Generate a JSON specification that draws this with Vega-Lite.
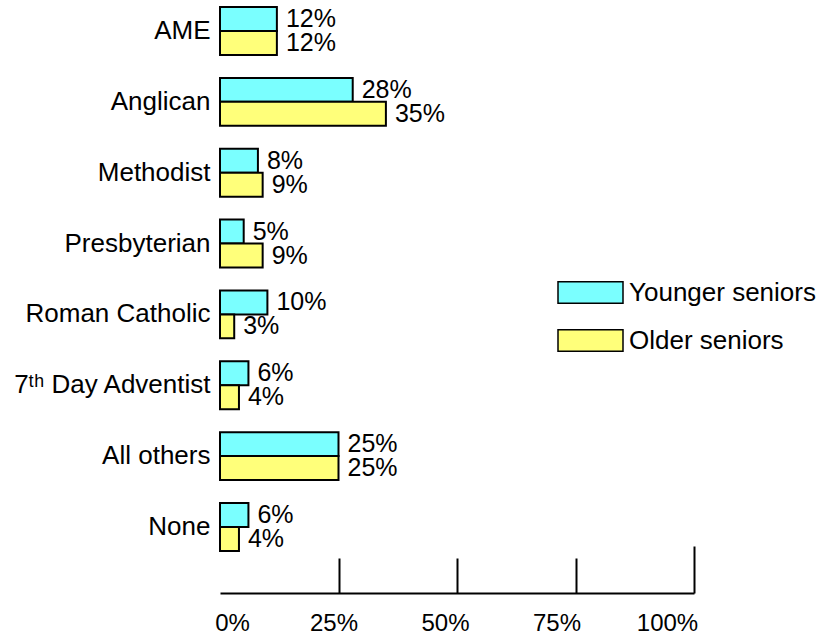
{
  "$schema": "https://vega.github.io/schema/vega-lite/v6.json",
  "width": 474,
  "height": 593,
  "autosize": {"type": "none"},
  "padding": {"left": 220, "top": 0, "right": 128, "bottom": 45},
  "background": "white",
  "config": {"view": {"stroke": null}, "font": "Liberation Sans"},
  "data": {
    "values": [
      {"religion": "AME", "group": "Younger seniors", "pct": 0.12},
      {"religion": "AME", "group": "Older seniors", "pct": 0.12},
      {"religion": "Anglican", "group": "Younger seniors", "pct": 0.28},
      {"religion": "Anglican", "group": "Older seniors", "pct": 0.35},
      {"religion": "Methodist", "group": "Younger seniors", "pct": 0.08},
      {"religion": "Methodist", "group": "Older seniors", "pct": 0.09},
      {"religion": "Presbyterian", "group": "Younger seniors", "pct": 0.05},
      {"religion": "Presbyterian", "group": "Older seniors", "pct": 0.09},
      {"religion": "Roman Catholic", "group": "Younger seniors", "pct": 0.10},
      {"religion": "Roman Catholic", "group": "Older seniors", "pct": 0.03},
      {"religion": "7ᵗʰ Day Adventist", "group": "Younger seniors", "pct": 0.06},
      {"religion": "7ᵗʰ Day Adventist", "group": "Older seniors", "pct": 0.04},
      {"religion": "All others", "group": "Younger seniors", "pct": 0.25},
      {"religion": "All others", "group": "Older seniors", "pct": 0.25},
      {"religion": "None", "group": "Younger seniors", "pct": 0.06},
      {"religion": "None", "group": "Older seniors", "pct": 0.04}
    ]
  },
  "encoding": {
    "y": {
      "field": "religion",
      "type": "nominal",
      "sort": ["AME", "Anglican", "Methodist", "Presbyterian", "Roman Catholic", "7ᵗʰ Day Adventist", "All others", "None"],
      "scale": {"paddingInner": 0.324, "paddingOuter": 0.3465, "align": 0.143},
      "axis": {"title": null, "domain": false, "ticks": false, "labelFontSize": 26, "labelColor": "black", "labelPadding": 10, "labelLimit": 300}
    },
    "yOffset": {
      "field": "group",
      "type": "nominal",
      "sort": ["Younger seniors", "Older seniors"],
      "scale": {"paddingInner": 0, "paddingOuter": 0}
    }
  },
  "resolve": {"axis": {"x": "independent"}},
  "layer": [
    {
      "mark": {"type": "bar", "stroke": "black", "strokeWidth": 2},
      "encoding": {
        "x": {
          "field": "pct",
          "type": "quantitative",
          "scale": {"domain": [0, 1], "nice": false},
          "axis": {
            "orient": "bottom",
            "title": null,
            "values": [0.25, 0.5, 0.75, 1],
            "labels": false,
            "grid": false,
            "domainColor": "black",
            "domainWidth": 2,
            "tickColor": "black",
            "tickWidth": 2,
            "tickSize": {"condition": {"test": "datum.value == 1", "value": -47}, "value": -35}
          }
        },
        "color": {
          "field": "group",
          "type": "nominal",
          "sort": ["Younger seniors", "Older seniors"],
          "scale": {"domain": ["Younger seniors", "Older seniors"], "range": ["#7AFFFF", "#FFFF7A"]},
          "legend": {
            "title": null,
            "orient": "none",
            "legendX": 337,
            "legendY": 259,
            "padding": 0,
            "symbolType": "M-1,-0.33H1V0.33H-1Z",
            "symbolSize": 4225,
            "symbolStrokeColor": "black",
            "symbolStrokeWidth": 1.5,
            "symbolOpacity": 1,
            "labelFontSize": 26,
            "labelLimit": 300,
            "labelColor": "black",
            "labelOffset": 5,
            "rowPadding": -18
          }
        }
      }
    },
    {
      "mark": {"type": "text", "align": "left", "baseline": "middle", "dx": 9, "fontSize": 25, "color": "black"},
      "encoding": {
        "x": {
          "field": "pct",
          "type": "quantitative",
          "scale": {"domain": [0, 1], "nice": false},
          "axis": {
            "orient": "bottom",
            "title": null,
            "values": [0, 0.25, 0.5, 0.75, 1],
            "format": ".0%",
            "grid": false,
            "domain": false,
            "ticks": false,
            "labelPadding": 18,
            "labelFontSize": 24,
            "labelColor": "black",
            "labelFlush": false,
            "labelOffset": {
              "condition": [
                {"test": "datum.value == 0", "value": 12},
                {"test": "datum.value == 0.25", "value": -5},
                {"test": "datum.value == 0.5", "value": -12},
                {"test": "datum.value == 0.75", "value": -19}
              ],
              "value": -27
            }
          }
        },
        "text": {"field": "pct", "type": "quantitative", "format": ".0%"}
      }
    }
  ]
}
